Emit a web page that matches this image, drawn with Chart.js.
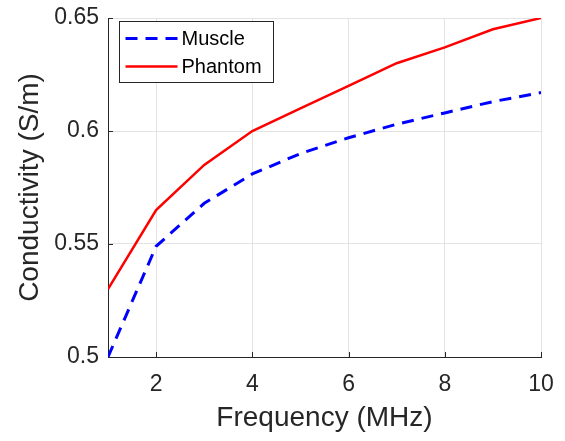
<!DOCTYPE html>
<html>
<head>
<meta charset="utf-8">
<script src="https://cdn.jsdelivr.net/npm/chart.js@4/dist/chart.umd.min.js"></script>
<style>
  html, body { margin: 0; padding: 0; background: #fff; }
  canvas { display: block; }
</style>
</head>
<body>
<canvas id="condChart" width="565" height="441"></canvas>
<script>
// data
const frequency = [1, 2, 3, 4, 5, 6, 7, 8, 9, 10];
const muscle  = [0.500, 0.549, 0.568, 0.581, 0.590, 0.597, 0.603, 0.608, 0.613, 0.617];
const phantom = [0.530, 0.565, 0.585, 0.600, 0.610, 0.620, 0.630, 0.637, 0.645, 0.650];
const xTicks = [2, 4, 6, 8, 10];
const yTicks = [0.5, 0.55, 0.6, 0.65];
const yTickLabels = ['0.5', '0.55', '0.6', '0.65'];

const axisColor = '#262626';
const fontFamily = '"Liberation Sans", Arial, Helvetica, sans-serif';

// legend box inside the axes, upper left
const boxLegend = {
    id: 'boxLegend',
    afterDraw(chart) {
        const ctx = chart.ctx;
        const area = chart.chartArea;
        const x = Math.round(area.left + 11) + 0.5;
        const y = Math.round(area.top + 3) + 0.5;
        const w = 154, h = 61;
        ctx.save();
        ctx.fillStyle = '#fff';
        ctx.fillRect(x, y, w, h);
        ctx.strokeStyle = axisColor;
        ctx.lineWidth = 1;
        ctx.strokeRect(x, y, w, h);
        ctx.font = '20px ' + fontFamily;
        ctx.textBaseline = 'middle';
        chart.data.datasets.forEach((ds, i) => {
            const ly = y + 17 + i * 28;
            ctx.beginPath();
            ctx.strokeStyle = ds.borderColor;
            ctx.lineWidth = ds.borderWidth;
            ctx.setLineDash(ds.borderDash || []);
            ctx.moveTo(x + 6, ly);
            ctx.lineTo(x + 58, ly);
            ctx.stroke();
            ctx.setLineDash([]);
            ctx.fillStyle = '#000';
            ctx.fillText(ds.label, x + 62, ly + 1);
        });
        ctx.restore();
    }
};

// MATLAB style tick marks pointing into the axes
const innerTicks = {
    id: 'innerTicks',
    afterDatasetsDraw(chart) {
        const ctx = chart.ctx;
        const xs = chart.scales.x, ys = chart.scales.y;
        const area = chart.chartArea;
        ctx.save();
        ctx.strokeStyle = axisColor;
        ctx.lineWidth = 1;
        ctx.beginPath();
        xTicks.forEach(v => {
            const px = Math.round(xs.getPixelForValue(v)) + 0.5;
            ctx.moveTo(px, area.bottom);
            ctx.lineTo(px, area.bottom - 5);
        });
        yTicks.forEach(v => {
            const py = Math.round(ys.getPixelForValue(v)) + 0.5;
            ctx.moveTo(area.left, py);
            ctx.lineTo(area.left + 5, py);
        });
        ctx.stroke();
        ctx.restore();
    }
};

const ctx = document.getElementById('condChart');
const chart = new Chart(ctx, {
    type: 'line',
    data: {
        labels: frequency,
        datasets: [
            {
                label: 'Muscle',
                data: frequency.map((f, i) => ({ x: f, y: muscle[i] })),
                borderColor: '#0000ff',
                borderWidth: 3,
                borderDash: [12, 8],
                pointRadius: 0,
                fill: false,
                tension: 0
            },
            {
                label: 'Phantom',
                data: frequency.map((f, i) => ({ x: f, y: phantom[i] })),
                borderColor: '#ff0000',
                borderWidth: 2.5,
                pointRadius: 0,
                fill: false,
                tension: 0
            }
        ]
    },
    options: {
        responsive: false,
        animation: false,
        layout: { padding: { top: 18, right: 24, left: 0, bottom: 0 } },
        scales: {
            x: {
                type: 'linear',
                min: 1,
                max: 10,
                afterBuildTicks: axis => { axis.ticks = xTicks.map(v => ({ value: v })); },
                afterFit: scale => {
                    scale.height = 84;
                    scale.paddingLeft = 0;
                    scale.paddingRight = 0;
                },
                grid: { color: '#e3e3e3', drawTicks: false },
                border: { color: axisColor, width: 1 },
                ticks: {
                    color: axisColor,
                    padding: 14,
                    maxRotation: 0,
                    font: { family: fontFamily, size: 23 }
                },
                title: {
                    display: true,
                    text: 'Frequency (MHz)',
                    color: axisColor,
                    padding: { top: 0, bottom: 6 },
                    font: { family: fontFamily, size: 28 }
                }
            },
            y: {
                type: 'linear',
                min: 0.5,
                max: 0.65,
                afterBuildTicks: axis => { axis.ticks = yTicks.map(v => ({ value: v })); },
                afterFit: scale => {
                    scale.width = 108;
                    scale.paddingTop = 0;
                    scale.paddingBottom = 0;
                },
                grid: { color: '#e3e3e3', drawTicks: false },
                border: { color: axisColor, width: 1 },
                ticks: {
                    color: axisColor,
                    padding: 9,
                    callback: (v) => {
                        const i = yTicks.findIndex(t => Math.abs(t - v) < 1e-9);
                        return i >= 0 ? yTickLabels[i] : '';
                    },
                    font: { family: fontFamily, size: 23 }
                },
                title: {
                    display: true,
                    text: 'Conductivity (S/m)',
                    color: axisColor,
                    padding: { top: 13, bottom: 0 },
                    font: { family: fontFamily, size: 28 }
                }
            }
        },
        plugins: {
            legend: { display: false },
            tooltip: { enabled: false }
        }
    },
    plugins: [boxLegend, innerTicks]
});
</script>
</body>
</html>
